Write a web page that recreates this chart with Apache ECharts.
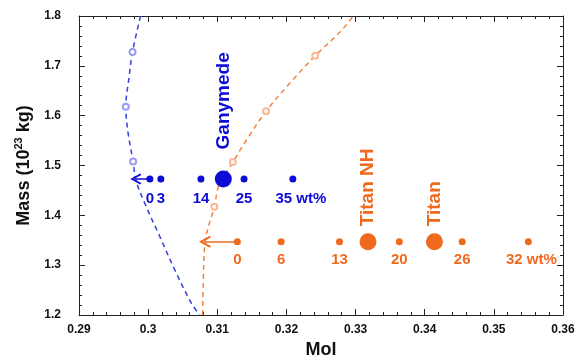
<!DOCTYPE html>
<html>
<head>
<meta charset="utf-8">
<script src="https://cdn.jsdelivr.net/npm/echarts@6/dist/echarts.min.js"></script>
<style>
  html, body { margin: 0; padding: 0; background: #fff; }
  #chart { width: 576px; height: 360px; }
</style>
</head>
<body>
<div id="chart"></div>
<script>
// model curves (Mol, Mass)
var blueCurve = [
  [0.29890, 1.800], [0.29774, 1.728], [0.29725, 1.678], [0.29677, 1.618],
  [0.29710, 1.565], [0.29783, 1.508], [0.29822, 1.471], [0.29952, 1.424],
  [0.30170, 1.357], [0.30387, 1.290], [0.30629, 1.223], [0.30749, 1.200]
];
var orangeCurve = [
  [0.30788, 1.200], [0.30797, 1.264], [0.30822, 1.347], [0.30880, 1.381],
  [0.30957, 1.417], [0.31014, 1.457], [0.31083, 1.473], [0.31225, 1.507],
  [0.31459, 1.559], [0.31706, 1.609], [0.32054, 1.666], [0.32416, 1.720],
  [0.32803, 1.772], [0.32967, 1.800]
];
var blueOpen = [[0.29774, 1.728], [0.29677, 1.618], [0.29783, 1.508]];
var orangeOpen = [[0.30957, 1.417], [0.31225, 1.507], [0.31706, 1.609], [0.32416, 1.720]];

// composition points
var blueWt = [0, 3, 14, 25, 35];
var blueMol = [0.30025, 0.30184, 0.30764, 0.31387, 0.32093];
var blueMass = 1.473;
var ganymede = [0.31087, 1.473];

var orangeWt = [0, 6, 13, 20, 26, 32];
var orangeMol = [0.31290, 0.31923, 0.32768, 0.33633, 0.34542, 0.35499];
var orangeMass = 1.347;
var titanNH = [0.33180, 1.347];
var titan = [0.34141, 1.347];

var blueArrow = [[0.30025, 1.473], [0.29822, 1.473]];
var orangeArrow = [[0.31290, 1.347], [0.30822, 1.347]];

var FONT = '"Liberation Sans", Arial, sans-serif';
var BLUE = "#0c0cd4";
var ORANGE = "#f06a1e";
var chevron = "path://M5,0 L10,9 L8.6,10 L5,3.2 L1.4,10 L0,9 Z";

function axisX(pos, showLabel) {
  return {
    type: "value", position: pos, min: 0.29, max: 0.36, interval: 0.01,
    name: showLabel ? "Mol" : "", nameLocation: "middle", nameGap: 26,
    nameTextStyle: { fontFamily: FONT, fontSize: 18, fontWeight: "bold", color: "#111" },
    axisLine: { show: true, onZero: false, lineStyle: { color: "#222", width: 1 } },
    axisTick: { show: true, inside: true, length: 6, lineStyle: { color: "#222" } },
    minorTick: { show: true, splitNumber: 5, length: 3, lineStyle: { color: "#222" } },
    axisLabel: { show: showLabel, margin: 9, fontFamily: FONT, fontSize: 12, fontWeight: "bold", color: "#111" },
    splitLine: { show: false }
  };
}
function axisY(pos, showLabel) {
  return {
    type: "value", position: pos, min: 1.2, max: 1.8, interval: 0.1,
    name: showLabel ? "{a|Mass (10}{s|23}{a| kg)}" : "", nameLocation: "middle", nameGap: 37,
    nameTextStyle: {
      rich: {
        a: { fontFamily: FONT, fontSize: 18, fontWeight: "bold", color: "#111", lineHeight: 22 },
        s: { fontFamily: FONT, fontSize: 11, fontWeight: "bold", color: "#111", verticalAlign: "top", lineHeight: 22 }
      }
    },
    axisLine: { show: true, onZero: false, lineStyle: { color: "#222", width: 1 } },
    axisTick: { show: true, inside: true, length: 6, lineStyle: { color: "#222" } },
    minorTick: { show: true, splitNumber: 5, length: 3, lineStyle: { color: "#222" } },
    axisLabel: { show: showLabel, margin: 18, fontFamily: FONT, fontSize: 12, fontWeight: "bold", color: "#111",
      formatter: function (v) { return v.toFixed(1); } },
    splitLine: { show: false }
  };
}

function dots(mols, mass, wts, lastOffset) {
  return mols.map(function (m, i) {
    var item = { value: [m, mass], wt: wts[i] };
    if (i === mols.length - 1) {
      item.label = { offset: [lastOffset, 0] };
    }
    return item;
  });
}

function bigLabel(text, dist) {
  return {
    show: true, formatter: text, position: "top", distance: dist,
    rotate: 90, align: "left", verticalAlign: "middle",
    fontFamily: FONT, fontSize: 19, fontWeight: "bold"
  };
}

var myChart = echarts.init(document.getElementById("chart"));
var option = {
  animation: false,
  grid: { left: 79, right: 13, top: 16, bottom: 45, containLabel: false, outerBoundsMode: "none" },
  xAxis: [axisX("bottom", true), axisX("top", false)],
  yAxis: [axisY("left", true), axisY("right", false)],
  series: [
    {
      type: "line", data: blueCurve, smooth: 0.35, symbol: "none", z: 2,
      lineStyle: { color: "#3340e0", width: 1.5, type: [5, 4] }
    },
    {
      type: "line", data: orangeCurve, smooth: 0.35, symbol: "none", z: 2,
      lineStyle: { color: "#f5813f", width: 1.5, type: [5, 4] }
    },
    {
      type: "scatter", data: blueOpen, symbol: "emptyCircle", symbolSize: 6, z: 4,
      itemStyle: { color: "#9a9af2", borderColor: "#9a9af2", borderWidth: 1, opacity: 1 }
    },
    {
      type: "scatter", data: orangeOpen, symbol: "emptyCircle", symbolSize: 6, z: 4,
      itemStyle: { color: "#f8b896", borderColor: "#f8b896", borderWidth: 1, opacity: 1 }
    },
    {
      type: "lines", coordinateSystem: "cartesian2d", data: [{ coords: blueArrow }], z: 3,
      symbol: ["none", chevron], symbolSize: [9, 11],
      lineStyle: { color: BLUE, width: 1.5, opacity: 1, curveness: 0 }
    },
    {
      type: "lines", coordinateSystem: "cartesian2d", data: [{ coords: orangeArrow }], z: 3,
      symbol: ["none", chevron], symbolSize: [9, 12],
      lineStyle: { color: ORANGE, width: 1.5, opacity: 1, curveness: 0 }
    },
    {
      type: "scatter", data: dots(blueMol, blueMass, blueWt, 8), symbolSize: 7, z: 4,
      itemStyle: { color: BLUE, opacity: 1 },
      label: {
        show: true, position: "bottom", distance: 9, color: BLUE,
        fontFamily: FONT, fontSize: 15, fontWeight: "bold",
        formatter: function (p) {
          return p.dataIndex === blueWt.length - 1 ? p.data.wt + " wt%" : String(p.data.wt);
        }
      }
    },
    {
      type: "scatter", data: dots(orangeMol, orangeMass, orangeWt, 3), symbolSize: 7, z: 4,
      itemStyle: { color: ORANGE, opacity: 1 },
      label: {
        show: true, position: "bottom", distance: 7, color: ORANGE,
        fontFamily: FONT, fontSize: 15, fontWeight: "bold",
        formatter: function (p) {
          return p.dataIndex === orangeWt.length - 1 ? p.data.wt + " wt%" : String(p.data.wt);
        }
      }
    },
    {
      type: "scatter", data: [ganymede], symbolSize: 17, z: 4,
      itemStyle: { color: BLUE, opacity: 1 },
      label: Object.assign(bigLabel("Ganymede", 21), { color: BLUE })
    },
    {
      type: "scatter", data: [titanNH, titan], symbolSize: 17, z: 4,
      itemStyle: { color: ORANGE, opacity: 1 },
      label: Object.assign(bigLabel("", 7), {
        color: ORANGE,
        formatter: function (p) { return p.dataIndex === 0 ? "Titan NH" : "Titan"; }
      })
    }
  ]
};
myChart.setOption(option);
window.addEventListener("resize", function () { myChart.resize(); });
</script>
</body>
</html>
